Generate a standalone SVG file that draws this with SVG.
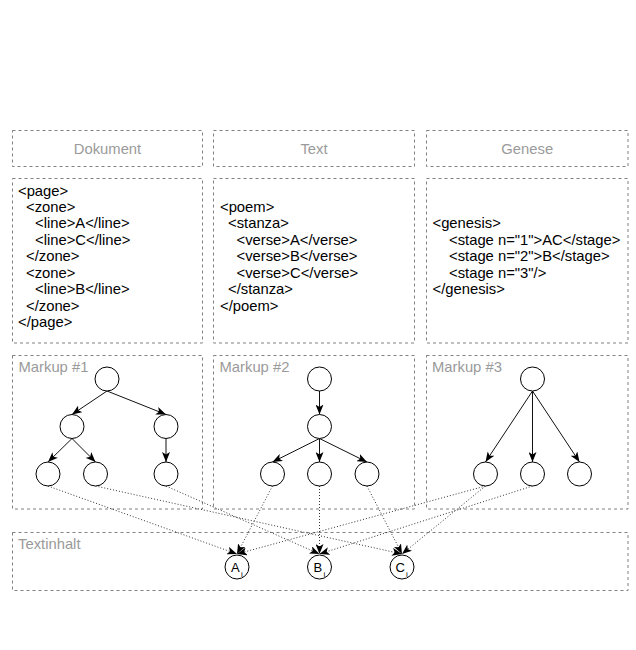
<svg xmlns="http://www.w3.org/2000/svg" width="636" height="650" viewBox="0 0 636 650">
<style>
.box{fill:none;stroke:#808080;stroke-width:1;stroke-dasharray:3 3}
.hdr{font-family:"Liberation Sans",Arial,sans-serif;font-size:14.8px;fill:#9a9a9a}
.code{font-family:"Liberation Sans",Arial,sans-serif;font-size:14.8px;fill:#000}
.node{fill:#fff;stroke:#000;stroke-width:1}
.edge{fill:none;stroke:#111;stroke-width:1;marker-end:url(#arr)}
.link{fill:none;stroke:#333;stroke-width:1;stroke-dasharray:1 2;marker-end:url(#arr)}
.lbl{font-family:"Liberation Sans",Arial,sans-serif;font-size:13px;fill:#000}
.sub{font-family:"Liberation Sans",Arial,sans-serif;font-size:8px;fill:#000}
</style>
<defs>
<marker id="arr" markerUnits="userSpaceOnUse" markerWidth="10" markerHeight="8" viewBox="0 0 10 8" refX="10" refY="4" orient="auto">
<path d="M0,0 L10,4 L0,8 L2.5,4 z" fill="#000"/>
</marker>
</defs>
<rect width="636" height="650" fill="#fff"/>

<g id="header-dokument">
<rect class="box" x="12.5" y="130.5" width="190" height="36"/>
<text class="hdr" x="107.5" y="154" text-anchor="middle">Dokument</text>
</g>
<g id="header-text">
<rect class="box" x="213.5" y="130.5" width="201" height="36"/>
<text class="hdr" x="314" y="154" text-anchor="middle">Text</text>
</g>
<g id="header-genese">
<rect class="box" x="426.5" y="130.5" width="201.5" height="36"/>
<text class="hdr" x="527.25" y="154" text-anchor="middle">Genese</text>
</g>

<g id="code-dokument">
<rect class="box" x="12.5" y="178.5" width="190" height="164.5"/>
<text class="code">
<tspan x="18" y="195.5">&lt;page&gt;</tspan>
<tspan x="26" y="211.95">&lt;zone&gt;</tspan>
<tspan x="35" y="228.4">&lt;line&gt;A&lt;/line&gt;</tspan>
<tspan x="35" y="244.85">&lt;line&gt;C&lt;/line&gt;</tspan>
<tspan x="26" y="261.3">&lt;/zone&gt;</tspan>
<tspan x="26" y="277.75">&lt;zone&gt;</tspan>
<tspan x="35" y="294.2">&lt;line&gt;B&lt;/line&gt;</tspan>
<tspan x="26" y="310.65">&lt;/zone&gt;</tspan>
<tspan x="18" y="327.1">&lt;/page&gt;</tspan>
</text>
</g>
<g id="code-text">
<rect class="box" x="213.5" y="178.5" width="201" height="164.5"/>
<text class="code">
<tspan x="220" y="211.95">&lt;poem&gt;</tspan>
<tspan x="228" y="228.4">&lt;stanza&gt;</tspan>
<tspan x="236.5" y="244.85">&lt;verse&gt;A&lt;/verse&gt;</tspan>
<tspan x="236.5" y="261.3">&lt;verse&gt;B&lt;/verse&gt;</tspan>
<tspan x="236.5" y="277.75">&lt;verse&gt;C&lt;/verse&gt;</tspan>
<tspan x="228" y="294.2">&lt;/stanza&gt;</tspan>
<tspan x="220" y="310.65">&lt;/poem&gt;</tspan>
</text>
</g>
<g id="code-genese">
<rect class="box" x="426.5" y="178.5" width="201.5" height="164.5"/>
<text class="code">
<tspan x="432.5" y="228.4">&lt;genesis&gt;</tspan>
<tspan x="449" y="244.85">&lt;stage n="1"&gt;AC&lt;/stage&gt;</tspan>
<tspan x="449" y="261.3">&lt;stage n="2"&gt;B&lt;/stage&gt;</tspan>
<tspan x="449" y="277.75">&lt;stage n="3"/&gt;</tspan>
<tspan x="432.5" y="294.2">&lt;/genesis&gt;</tspan>
</text>
</g>

<g id="markup-1">
<rect class="box" x="12.5" y="355.5" width="190" height="153.5"/>
<text class="hdr" x="18.5" y="372">Markup #1</text>
</g>
<g id="markup-2">
<rect class="box" x="213.5" y="355.5" width="201" height="153.5"/>
<text class="hdr" x="219.5" y="372">Markup #2</text>
</g>
<g id="markup-3">
<rect class="box" x="426.5" y="355.5" width="201.5" height="153.5"/>
<text class="hdr" x="432" y="372">Markup #3</text>
</g>
<g id="textinhalt">
<rect class="box" x="12.5" y="532.5" width="615.5" height="58"/>
<text class="hdr" x="18" y="549">Textinhalt</text>
</g>

<g id="connectors">
<line class="edge" x1="107" y1="391" x2="72" y2="414.5"/>
<line class="edge" x1="107" y1="391" x2="166" y2="414.5"/>
<line class="edge" x1="72" y1="438.5" x2="48" y2="462"/>
<line class="edge" x1="72" y1="438.5" x2="95.5" y2="462"/>
<line class="edge" x1="166" y1="438.5" x2="166" y2="462"/>
<line class="edge" x1="319.5" y1="391" x2="319.5" y2="414.5"/>
<line class="edge" x1="319.5" y1="438.5" x2="272.5" y2="462"/>
<line class="edge" x1="319.5" y1="438.5" x2="319.5" y2="462"/>
<line class="edge" x1="319.5" y1="438.5" x2="367" y2="462"/>
<line class="edge" x1="532.5" y1="391" x2="485.5" y2="462"/>
<line class="edge" x1="532.5" y1="391" x2="532.5" y2="462"/>
<line class="edge" x1="532.5" y1="391" x2="579.5" y2="462"/>

<line class="link" x1="48" y1="486" x2="237" y2="554"/>
<line class="link" x1="95.5" y1="486" x2="402" y2="554"/>
<line class="link" x1="166" y1="486" x2="319.5" y2="554"/>
<line class="link" x1="272.5" y1="486" x2="237" y2="554"/>
<line class="link" x1="319.5" y1="486" x2="319.5" y2="554"/>
<line class="link" x1="367" y1="486" x2="402" y2="554"/>
<line class="link" x1="485.5" y1="486" x2="237" y2="554"/>
<line class="link" x1="485.5" y1="486" x2="402" y2="554"/>
<line class="link" x1="532.5" y1="486" x2="319.5" y2="554"/>
</g>

<g id="tree1-root"><circle class="node" cx="107" cy="379" r="12"/></g>
<g id="tree1-zone1"><circle class="node" cx="72" cy="426.5" r="12" stroke-width="1.3"/></g>
<g id="tree1-zone2"><circle class="node" cx="166" cy="426.5" r="12"/></g>
<g id="tree1-lineA"><circle class="node" cx="48" cy="474" r="12"/></g>
<g id="tree1-lineC"><circle class="node" cx="95.5" cy="474" r="12"/></g>
<g id="tree1-lineB"><circle class="node" cx="166" cy="474" r="12"/></g>

<g id="tree2-root"><circle class="node" cx="319.5" cy="379" r="12"/></g>
<g id="tree2-stanza"><circle class="node" cx="319.5" cy="426.5" r="12"/></g>
<g id="tree2-verseA"><circle class="node" cx="272.5" cy="474" r="12"/></g>
<g id="tree2-verseB"><circle class="node" cx="319.5" cy="474" r="12"/></g>
<g id="tree2-verseC"><circle class="node" cx="367" cy="474" r="12"/></g>

<g id="tree3-root"><circle class="node" cx="532.5" cy="379" r="12"/></g>
<g id="tree3-stage1"><circle class="node" cx="485.5" cy="474" r="12"/></g>
<g id="tree3-stage2"><circle class="node" cx="532.5" cy="474" r="12"/></g>
<g id="tree3-stage3"><circle class="node" cx="579.5" cy="474" r="12"/></g>

<g id="content-A">
<circle class="node" cx="237" cy="567" r="12"/>
<text class="lbl" x="235.3" y="571.5" text-anchor="middle">A</text>
<text class="sub" x="241" y="576.5">i</text>
</g>
<g id="content-B">
<circle class="node" cx="319.5" cy="567" r="12" stroke-width="1.3"/>
<text class="lbl" x="317.8" y="571.5" text-anchor="middle">B</text>
<text class="sub" x="323.5" y="576.5">i</text>
</g>
<g id="content-C">
<circle class="node" cx="402" cy="567" r="12"/>
<text class="lbl" x="400.3" y="571.5" text-anchor="middle">C</text>
<text class="sub" x="406" y="576.5">i</text>
</g>
</svg>
